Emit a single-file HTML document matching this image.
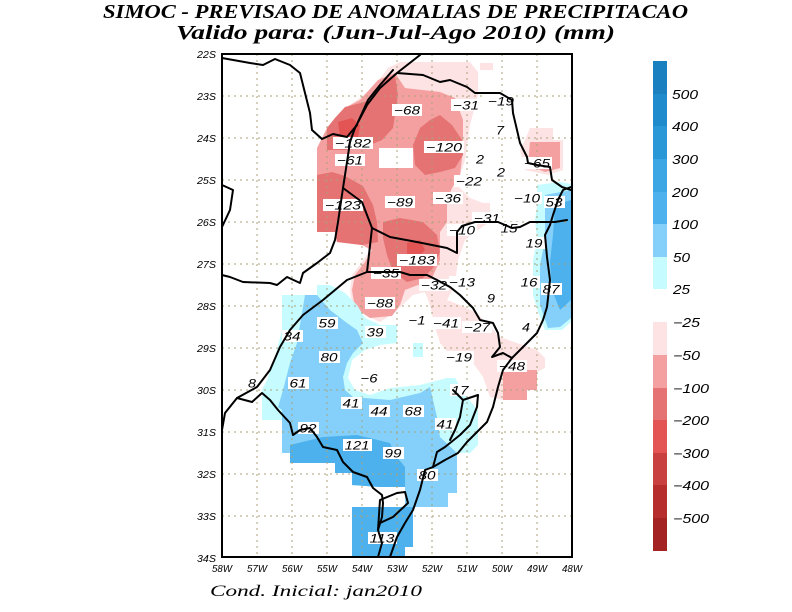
<!DOCTYPE html>
<html><head><meta charset="utf-8"><style>
html,body{margin:0;padding:0;background:#fff;}
svg{display:block;}
.lb{font-family:"Liberation Sans",sans-serif;font-style:italic;font-size:12px;fill:#000;}
.ax{font-family:"Liberation Sans",sans-serif;font-style:italic;font-size:10.5px;fill:#000;}
.cb{font-family:"Liberation Sans",sans-serif;font-style:italic;font-size:12.5px;fill:#000;}
.ln{fill:none;stroke:#000;stroke-width:2;stroke-linejoin:round;stroke-linecap:round;}
</style></head><body>
<svg width="792" height="612" viewBox="0 0 792 612" xmlns="http://www.w3.org/2000/svg">
<rect width="792" height="612" fill="#fff"/>
<!-- Titles -->
<text x="103" y="18" textLength="585" lengthAdjust="spacingAndGlyphs" style="font-family:'Liberation Serif',serif;font-style:italic;font-weight:bold;font-size:20px;">SIMOC - PREVISAO DE ANOMALIAS DE PRECIPITACAO</text>
<text x="176" y="39" textLength="439" lengthAdjust="spacingAndGlyphs" style="font-family:'Liberation Serif',serif;font-style:italic;font-weight:bold;font-size:20px;">Valido para: (Jun-Jul-Ago 2010) (mm)</text>
<text x="210" y="596" textLength="212" lengthAdjust="spacingAndGlyphs" style="font-family:'Liberation Serif',serif;font-style:italic;font-size:16px;">Cond. Inicial: jan2010</text>

<!-- RED FIELDS -->
<polygon fill="#fde3e3" points="317,148 327,128 335,118 345,108 360,98 375,85 388,68 400,62 470,62 478,72 478,95 470,125 465,160 457,185 470,198 488,205 492,220 478,230 465,240 458,260 455,285 447,300 460,305 477,313 490,327 500,337 517,343 537,350 545,358 545,368 537,372 503,400 490,397 483,377 473,363 453,358 440,343 435,327 430,305 425,292 413,295 395,312 380,322 365,315 352,305 350,290 352,275 362,262 370,250 362,245 337,242 335,232 317,232"/>
<polygon fill="#f5a0a0" points="317,148 327,128 335,118 345,108 360,100 378,80 395,73 405,88 440,92 455,98 463,120 463,150 460,175 452,188 447,200 447,222 440,232 440,260 432,278 418,285 405,290 400,305 392,316 370,318 355,308 352,290 355,275 365,262 372,250 362,245 337,242 335,232 317,232"/>
<polygon fill="#e57373" points="345,107 372,100 383,80 395,75 398,95 393,128 382,140 365,147 345,150 327,150 327,128 335,118"/>
<polygon fill="#e57373" points="317,175 332,172 345,176 363,186 373,205 377,222 378,242 362,245 337,242 335,232 317,232"/>
<polygon fill="#e57373" points="440,115 452,125 462,140 463,155 455,168 440,172 425,175 415,165 413,145 420,128 430,120"/>
<polygon fill="#e57373" points="383,222 400,218 423,222 437,235 440,252 433,268 423,278 407,282 393,272 387,255 383,238"/>
<polygon fill="#e35555" points="338,122 352,118 360,125 358,137 340,137"/>
<polygon fill="#e35555" points="407,243 420,240 425,250 418,258 407,255"/>
<rect x="379" y="148" width="34" height="20" fill="#fff"/>
<polygon fill="#fde3e3" points="530,128 553,128 553,140 563,140 563,170 548,175 525,170 520,150 525,140"/>
<polygon fill="#f5a0a0" points="530,142 560,142 560,168 545,172 528,165"/>
<polygon fill="#f5a0a0" points="503,370 537,370 537,390 527,390 527,400 503,400"/>
<polygon fill="#fde3e3" points="473,203 490,203 490,220 475,222"/>
<polygon fill="#fde3e3" points="480,63 493,63 493,70 480,70"/>

<!-- BLUE FIELDS -->
<polygon fill="#c6fcff" points="282,295 317,295 317,285 330,285 345,293 357,305 365,318 380,325 397,325 397,343 380,345 365,350 352,360 348,378 355,390 370,395 390,388 420,385 447,378 455,378 465,395 478,410 478,445 470,453 457,453 457,493 448,493 448,507 405,507 405,487 380,487 352,485 352,473 335,473 335,463 290,463 290,453 282,453 282,420 262,420 262,390 267,380 275,357 282,330"/>
<rect x="413" y="343" width="10" height="14" fill="#c6fcff"/>
<polygon fill="#84d0fa" points="305,295 317,295 330,310 347,323 357,330 363,343 353,353 347,363 343,377 345,390 353,397 390,400 420,393 430,387 437,417 440,437 457,453 457,493 448,493 448,507 405,507 405,487 380,487 352,485 352,473 335,473 335,463 290,463 290,453 282,453 282,410 278,407 283,390 290,363 297,343"/>
<polygon fill="#4cb1ec" points="290,445 323,437 357,435 390,443 395,455 405,467 405,487 380,487 352,485 352,473 335,473 335,463 290,463"/>
<polygon fill="#4cb1ec" points="352,507 413,507 413,547 405,547 405,557 352,557"/>
<polygon fill="#c6fcff" points="537,185 560,182 571,184 571,322 562,330 545,330 538,312 533,295 533,260 537,240 535,220 538,200"/>
<polygon fill="#84d0fa" points="545,195 571,190 571,318 560,327 548,328 540,305 540,265 545,240 545,215"/>
<polygon fill="#4cb1ec" points="555,205 571,200 571,300 560,310 552,290 550,262 553,235"/>

<!-- GRID -->
<g stroke="#aaa27a" stroke-width="1" stroke-dasharray="2,4" fill="none">
<path d="M257,54V557M292,54V557M327,54V557M362,54V557M397,54V557M432,54V557M467,54V557M502,54V557M537,54V557"/>
<path d="M222,96H572M222,138H572M222,180H572M222,222H572M222,264H572M222,306H572M222,348H572M222,390H572M222,432H572M222,474H572M222,516H572"/>
</g>

<!-- LABELS -->
<g class="lb" text-anchor="middle">
<g fill="#fff">
</g>
</g>
<g id="labels">
<!-- generated boxes + text -->
<rect x="333" y="137" width="40" height="12" fill="#fff"/><text class="lb" x="353" y="147.5" text-anchor="middle" textLength="36" lengthAdjust="spacingAndGlyphs">−182</text>
<rect x="335" y="154" width="30" height="12" fill="#fff"/><text class="lb" x="350" y="164.5" text-anchor="middle" textLength="26" lengthAdjust="spacingAndGlyphs">−61</text>
<rect x="323" y="199" width="40" height="12" fill="#fff"/><text class="lb" x="343" y="209.5" text-anchor="middle" textLength="36" lengthAdjust="spacingAndGlyphs">−123</text>
<rect x="392" y="104" width="30" height="12" fill="#fff"/><text class="lb" x="407" y="114.5" text-anchor="middle" textLength="26" lengthAdjust="spacingAndGlyphs">−68</text>
<rect x="451" y="99" width="30" height="12" fill="#fff"/><text class="lb" x="466" y="109.5" text-anchor="middle" textLength="26" lengthAdjust="spacingAndGlyphs">−31</text>
<rect x="486" y="95" width="30" height="12" fill="#fff"/><text class="lb" x="501" y="105.5" text-anchor="middle" textLength="26" lengthAdjust="spacingAndGlyphs">−19</text>
<rect x="494" y="124" width="12" height="12" fill="#fff"/><text class="lb" x="500" y="134.5" text-anchor="middle" textLength="8" lengthAdjust="spacingAndGlyphs">7</text>
<rect x="424" y="141" width="40" height="12" fill="#fff"/><text class="lb" x="444" y="151.5" text-anchor="middle" textLength="36" lengthAdjust="spacingAndGlyphs">−120</text>
<rect x="474" y="153" width="12" height="12" fill="#fff"/><text class="lb" x="480" y="163.5" text-anchor="middle" textLength="8" lengthAdjust="spacingAndGlyphs">2</text>
<rect x="495" y="166" width="12" height="12" fill="#fff"/><text class="lb" x="501" y="176.5" text-anchor="middle" textLength="8" lengthAdjust="spacingAndGlyphs">2</text>
<rect x="522" y="157" width="30" height="12" fill="#fff"/><text class="lb" x="537" y="167.5" text-anchor="middle" textLength="26" lengthAdjust="spacingAndGlyphs">−65</text>
<rect x="454" y="175" width="30" height="12" fill="#fff"/><text class="lb" x="469" y="185.5" text-anchor="middle" textLength="26" lengthAdjust="spacingAndGlyphs">−22</text>
<rect x="433" y="192" width="30" height="12" fill="#fff"/><text class="lb" x="448" y="202.5" text-anchor="middle" textLength="26" lengthAdjust="spacingAndGlyphs">−36</text>
<rect x="512" y="192" width="30" height="12" fill="#fff"/><text class="lb" x="527" y="202.5" text-anchor="middle" textLength="26" lengthAdjust="spacingAndGlyphs">−10</text>
<rect x="544" y="196" width="21" height="12" fill="#fff"/><text class="lb" x="554" y="206.5" text-anchor="middle" textLength="17" lengthAdjust="spacingAndGlyphs">53</text>
<rect x="385" y="196" width="30" height="12" fill="#fff"/><text class="lb" x="400" y="206.5" text-anchor="middle" textLength="26" lengthAdjust="spacingAndGlyphs">−89</text>
<rect x="472" y="212" width="30" height="12" fill="#fff"/><text class="lb" x="487" y="222.5" text-anchor="middle" textLength="26" lengthAdjust="spacingAndGlyphs">−31</text>
<rect x="499" y="222" width="21" height="12" fill="#fff"/><text class="lb" x="509" y="232.5" text-anchor="middle" textLength="17" lengthAdjust="spacingAndGlyphs">15</text>
<rect x="447" y="224" width="30" height="12" fill="#fff"/><text class="lb" x="462" y="234.5" text-anchor="middle" textLength="26" lengthAdjust="spacingAndGlyphs">−10</text>
<rect x="524" y="237" width="21" height="12" fill="#fff"/><text class="lb" x="534" y="247.5" text-anchor="middle" textLength="17" lengthAdjust="spacingAndGlyphs">19</text>
<rect x="397" y="254" width="40" height="12" fill="#fff"/><text class="lb" x="417" y="264.5" text-anchor="middle" textLength="36" lengthAdjust="spacingAndGlyphs">−183</text>
<rect x="371" y="267" width="30" height="12" fill="#fff"/><text class="lb" x="386" y="277.5" text-anchor="middle" textLength="26" lengthAdjust="spacingAndGlyphs">−35</text>
<rect x="419" y="279" width="30" height="12" fill="#fff"/><text class="lb" x="434" y="289.5" text-anchor="middle" textLength="26" lengthAdjust="spacingAndGlyphs">−32</text>
<rect x="449" y="276" width="27" height="12" fill="#fff"/><text class="lb" x="462" y="286.5" text-anchor="middle" textLength="26" lengthAdjust="spacingAndGlyphs">−13</text>
<rect x="519" y="276" width="21" height="12" fill="#fff"/><text class="lb" x="529" y="286.5" text-anchor="middle" textLength="17" lengthAdjust="spacingAndGlyphs">16</text>
<rect x="541" y="283" width="21" height="12" fill="#fff"/><text class="lb" x="551" y="293.5" text-anchor="middle" textLength="17" lengthAdjust="spacingAndGlyphs">87</text>
<rect x="485" y="292" width="12" height="12" fill="#fff"/><text class="lb" x="491" y="302.5" text-anchor="middle" textLength="8" lengthAdjust="spacingAndGlyphs">9</text>
<rect x="365" y="297" width="30" height="12" fill="#fff"/><text class="lb" x="380" y="307.5" text-anchor="middle" textLength="26" lengthAdjust="spacingAndGlyphs">−88</text>
<rect x="406" y="314" width="21" height="12" fill="#fff"/><text class="lb" x="417" y="324.5" text-anchor="middle" textLength="17" lengthAdjust="spacingAndGlyphs">−1</text>
<rect x="431" y="317" width="30" height="12" fill="#fff"/><text class="lb" x="446" y="327.5" text-anchor="middle" textLength="26" lengthAdjust="spacingAndGlyphs">−41</text>
<rect x="462" y="321" width="30" height="12" fill="#fff"/><text class="lb" x="477" y="331.5" text-anchor="middle" textLength="26" lengthAdjust="spacingAndGlyphs">−27</text>
<rect x="520" y="321" width="12" height="12" fill="#fff"/><text class="lb" x="526" y="331.5" text-anchor="middle" textLength="8" lengthAdjust="spacingAndGlyphs">4</text>
<rect x="444" y="351" width="30" height="12" fill="#fff"/><text class="lb" x="459" y="361.5" text-anchor="middle" textLength="26" lengthAdjust="spacingAndGlyphs">−19</text>
<rect x="497" y="360" width="30" height="12" fill="#fff"/><text class="lb" x="512" y="370.5" text-anchor="middle" textLength="26" lengthAdjust="spacingAndGlyphs">−48</text>
<rect x="450" y="384" width="21" height="12" fill="#fff"/><text class="lb" x="460" y="394.5" text-anchor="middle" textLength="17" lengthAdjust="spacingAndGlyphs">17</text>
<rect x="403" y="405" width="21" height="12" fill="#fff"/><text class="lb" x="413" y="415.5" text-anchor="middle" textLength="17" lengthAdjust="spacingAndGlyphs">68</text>
<rect x="435" y="418" width="21" height="12" fill="#fff"/><text class="lb" x="445" y="428.5" text-anchor="middle" textLength="17" lengthAdjust="spacingAndGlyphs">41</text>
<rect x="317" y="317" width="21" height="12" fill="#fff"/><text class="lb" x="327" y="327.5" text-anchor="middle" textLength="17" lengthAdjust="spacingAndGlyphs">59</text>
<rect x="282" y="330" width="21" height="12" fill="#fff"/><text class="lb" x="292" y="340.5" text-anchor="middle" textLength="17" lengthAdjust="spacingAndGlyphs">34</text>
<rect x="365" y="326" width="21" height="12" fill="#fff"/><text class="lb" x="375" y="336.5" text-anchor="middle" textLength="17" lengthAdjust="spacingAndGlyphs">39</text>
<rect x="319" y="351" width="21" height="12" fill="#fff"/><text class="lb" x="329" y="361.5" text-anchor="middle" textLength="17" lengthAdjust="spacingAndGlyphs">80</text>
<rect x="246" y="377" width="12" height="12" fill="#fff"/><text class="lb" x="252" y="387.5" text-anchor="middle" textLength="8" lengthAdjust="spacingAndGlyphs">8</text>
<rect x="288" y="377" width="21" height="12" fill="#fff"/><text class="lb" x="298" y="387.5" text-anchor="middle" textLength="17" lengthAdjust="spacingAndGlyphs">61</text>
<rect x="359" y="372" width="21" height="12" fill="#fff"/><text class="lb" x="369" y="382.5" text-anchor="middle" textLength="17" lengthAdjust="spacingAndGlyphs">−6</text>
<rect x="341" y="397" width="21" height="12" fill="#fff"/><text class="lb" x="351" y="407.5" text-anchor="middle" textLength="17" lengthAdjust="spacingAndGlyphs">41</text>
<rect x="369" y="405" width="21" height="12" fill="#fff"/><text class="lb" x="379" y="415.5" text-anchor="middle" textLength="17" lengthAdjust="spacingAndGlyphs">44</text>
<rect x="298" y="422" width="21" height="12" fill="#fff"/><text class="lb" x="308" y="432.5" text-anchor="middle" textLength="17" lengthAdjust="spacingAndGlyphs">92</text>
<rect x="343" y="439" width="29" height="12" fill="#fff"/><text class="lb" x="357" y="449.5" text-anchor="middle" textLength="25" lengthAdjust="spacingAndGlyphs">121</text>
<rect x="383" y="447" width="21" height="12" fill="#fff"/><text class="lb" x="393" y="457.5" text-anchor="middle" textLength="17" lengthAdjust="spacingAndGlyphs">99</text>
<rect x="417" y="469" width="21" height="12" fill="#fff"/><text class="lb" x="427" y="479.5" text-anchor="middle" textLength="17" lengthAdjust="spacingAndGlyphs">80</text>
<rect x="368" y="532" width="29" height="12" fill="#fff"/><text class="lb" x="382" y="542.5" text-anchor="middle" textLength="25" lengthAdjust="spacingAndGlyphs">113</text>
</g>

<!-- MAP LINES -->
<g class="ln">
<path d="M222,58 L250,63 L263,65 L275,59 L290,65 L300,73 L305,93 L310,113 L312,130 L322,139 L333,134 L347,137 L357,125"/>
<path d="M420,55 L397,73 L380,88 L367,105 L355,128 L350,142 L347,162 L343,188 L338,222 L335,240 L330,253 L317,263 L303,273 L300,283 L287,277 L277,285 L270,283 L243,282 L230,277 L222,275"/>
<path d="M393,70 L380,85 L368,100 L358,122"/>
<path d="M222,185 L233,190 L230,210 L222,227"/>
<path d="M343,188 L362,202 L372,228 L367,272 L347,280 L323,300 L303,315 L290,330 L280,347 L270,370 L257,387 L237,398 L225,413 L222,430"/>
<path d="M237,398 L252,402 L262,393 L270,400 L278,410 L290,423 L293,435 L300,430 L310,428 L317,437 L323,447 L337,450 L343,462 L353,472 L367,477 L373,488 L382,495 L383,503 L382,517 L378,530 L382,543 L378,557"/>
<path d="M378,530 L380,500 L397,493 L405,492 L408,503 L393,517 L380,523"/>
<path d="M512,358 L503,370 L498,387 L493,407 L487,422 L477,432 L467,442 L458,453 L445,460 L433,467 L425,470 L420,490 L413,510 L405,523 L397,537 L390,557"/>
<path d="M453,390 L463,400 L478,395 L477,407 L470,425 L460,435 L445,447 L437,452 L433,467"/>
<path d="M463,400 L460,417 L455,430 L450,440"/>
<path d="M367,272 L400,272 L410,275 L427,275 L437,280 L450,287 L460,295 L467,302 L473,308 L480,320 L493,323 L498,333 L500,347 L492,357 L503,353 L512,358"/>
<path d="M512,358 L523,347 L537,333 L543,320 L547,307 L550,280 L547,257 L545,235 L550,225 L553,215 L558,200 L563,190 L571,187"/>
<path d="M372,228 L390,237 L417,242 L447,248 L457,253 L457,232 L462,226 L475,222 L498,222 L512,228 L520,227 L530,222 L555,222 L567,220"/>
<path d="M397,73 L423,75 L440,82 L450,80 L467,87 L475,93 L500,93 L512,100 L513,113 L517,130 L520,143 L527,157 L528,163 L537,165 L550,167 L552,180 L562,187 L571,190"/>
</g>

<!-- FRAME -->
<rect x="222" y="54" width="350" height="503" fill="none" stroke="#000" stroke-width="2"/>

<!-- AXIS LABELS -->
<g class="ax" text-anchor="end">
<text x="216" y="58" textLength="19" lengthAdjust="spacingAndGlyphs">22S</text>
<text x="216" y="100" textLength="19" lengthAdjust="spacingAndGlyphs">23S</text>
<text x="216" y="142" textLength="19" lengthAdjust="spacingAndGlyphs">24S</text>
<text x="216" y="184" textLength="19" lengthAdjust="spacingAndGlyphs">25S</text>
<text x="216" y="226" textLength="19" lengthAdjust="spacingAndGlyphs">26S</text>
<text x="216" y="268" textLength="19" lengthAdjust="spacingAndGlyphs">27S</text>
<text x="216" y="310" textLength="19" lengthAdjust="spacingAndGlyphs">28S</text>
<text x="216" y="352" textLength="19" lengthAdjust="spacingAndGlyphs">29S</text>
<text x="216" y="394" textLength="19" lengthAdjust="spacingAndGlyphs">30S</text>
<text x="216" y="436" textLength="19" lengthAdjust="spacingAndGlyphs">31S</text>
<text x="216" y="478" textLength="19" lengthAdjust="spacingAndGlyphs">32S</text>
<text x="216" y="520" textLength="19" lengthAdjust="spacingAndGlyphs">33S</text>
<text x="216" y="562" textLength="19" lengthAdjust="spacingAndGlyphs">34S</text>
</g>
<g class="ax" text-anchor="middle">
<text x="222" y="572" textLength="20" lengthAdjust="spacingAndGlyphs">58W</text>
<text x="257" y="572" textLength="20" lengthAdjust="spacingAndGlyphs">57W</text>
<text x="292" y="572" textLength="20" lengthAdjust="spacingAndGlyphs">56W</text>
<text x="327" y="572" textLength="20" lengthAdjust="spacingAndGlyphs">55W</text>
<text x="362" y="572" textLength="20" lengthAdjust="spacingAndGlyphs">54W</text>
<text x="397" y="572" textLength="20" lengthAdjust="spacingAndGlyphs">53W</text>
<text x="432" y="572" textLength="20" lengthAdjust="spacingAndGlyphs">52W</text>
<text x="467" y="572" textLength="20" lengthAdjust="spacingAndGlyphs">51W</text>
<text x="502" y="572" textLength="20" lengthAdjust="spacingAndGlyphs">50W</text>
<text x="537" y="572" textLength="20" lengthAdjust="spacingAndGlyphs">49W</text>
<text x="572" y="572" textLength="20" lengthAdjust="spacingAndGlyphs">48W</text>
</g>

<!-- COLORBAR -->
<rect x="653" y="61" width="14" height="33" fill="#1a80c0"/>
<rect x="653" y="94" width="14" height="32" fill="#1f8bcc"/>
<rect x="653" y="126" width="14" height="33" fill="#2a97d6"/>
<rect x="653" y="159" width="14" height="33" fill="#3ca6e4"/>
<rect x="653" y="192" width="14" height="32" fill="#4cb1ec"/>
<rect x="653" y="224" width="14" height="33" fill="#84d0fa"/>
<rect x="653" y="257" width="14" height="32" fill="#c6fcff"/>
<rect x="653" y="322" width="14" height="33" fill="#fde3e3"/>
<rect x="653" y="355" width="14" height="33" fill="#f5a0a0"/>
<rect x="653" y="388" width="14" height="32" fill="#e57373"/>
<rect x="653" y="420" width="14" height="33" fill="#e35555"/>
<rect x="653" y="453" width="14" height="32" fill="#c94040"/>
<rect x="653" y="485" width="14" height="33" fill="#b52d2d"/>
<rect x="653" y="518" width="14" height="33" fill="#a52222"/>
<g class="cb">
<text x="672" y="99" textLength="26" lengthAdjust="spacingAndGlyphs">500</text>
<text x="672" y="131" textLength="26" lengthAdjust="spacingAndGlyphs">400</text>
<text x="672" y="164" textLength="26" lengthAdjust="spacingAndGlyphs">300</text>
<text x="672" y="197" textLength="26" lengthAdjust="spacingAndGlyphs">200</text>
<text x="672" y="229" textLength="26" lengthAdjust="spacingAndGlyphs">100</text>
<text x="673" y="262" textLength="17" lengthAdjust="spacingAndGlyphs">50</text>
<text x="673" y="294" textLength="17" lengthAdjust="spacingAndGlyphs">25</text>
<text x="673" y="327" textLength="27" lengthAdjust="spacingAndGlyphs">−25</text>
<text x="673" y="360" textLength="27" lengthAdjust="spacingAndGlyphs">−50</text>
<text x="673" y="393" textLength="36" lengthAdjust="spacingAndGlyphs">−100</text>
<text x="673" y="425" textLength="36" lengthAdjust="spacingAndGlyphs">−200</text>
<text x="673" y="458" textLength="36" lengthAdjust="spacingAndGlyphs">−300</text>
<text x="673" y="490" textLength="36" lengthAdjust="spacingAndGlyphs">−400</text>
<text x="673" y="523" textLength="36" lengthAdjust="spacingAndGlyphs">−500</text>
</g>
</svg>
</body></html>
